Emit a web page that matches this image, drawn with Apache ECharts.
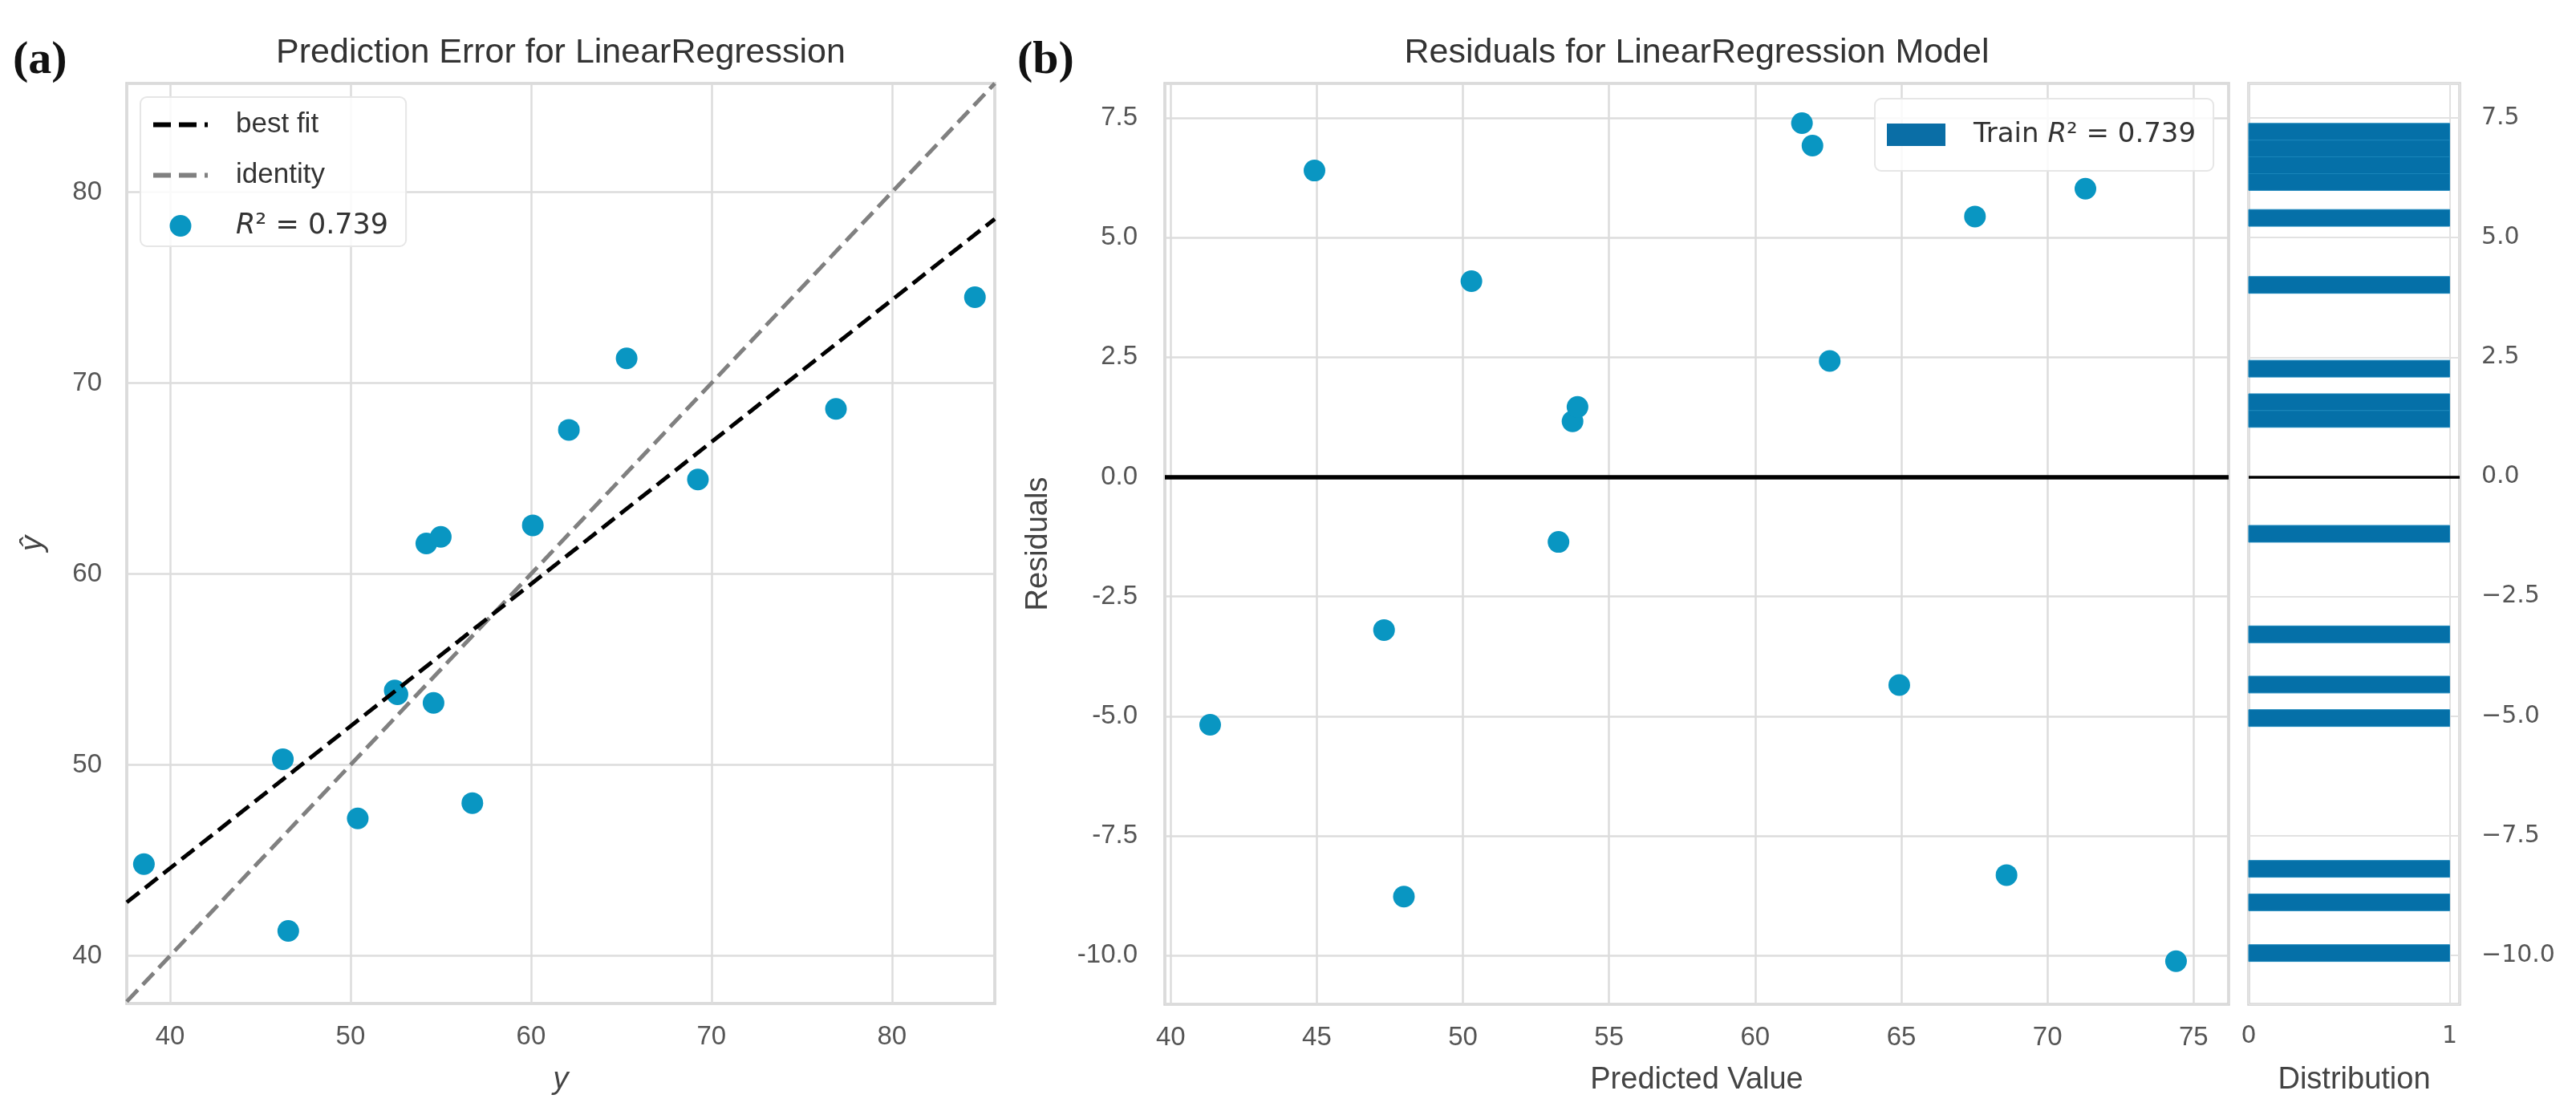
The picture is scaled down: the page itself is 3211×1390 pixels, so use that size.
<!DOCTYPE html>
<html lang="en">
<head>
<meta charset="UTF-8">
<title>Prediction Error / Residuals</title>
<script src="https://cdn.jsdelivr.net/npm/echarts@6.0.0/dist/echarts.min.js"></script>
<style>
  html, body { margin: 0; padding: 0; background: #fff; }
  #main { width: 3211px; height: 1390px; }
</style>
</head>
<body>
<div id="main"></div>
<script>
// (a) prediction error: actual y vs predicted y-hat
var yTrue = [38.55, 46.25, 46.55, 50.4, 52.45, 52.6, 54.6, 54.2, 55.0, 56.75, 60.1, 62.1, 65.3, 69.25, 76.9, 84.6];
var yPred = [44.8, 50.3, 41.3, 47.2, 53.9, 53.7, 53.25, 61.6, 61.95, 48.0, 62.55, 67.55, 71.3, 64.95, 68.65, 74.5];
var bestFitLine = [[37.6, 42.8], [85.7, 78.6]];
var identityLine = [[37.6, 37.6], [85.7, 85.7]];

// (b) residuals vs predicted value
var predicted = [41.35, 44.92, 47.3, 47.98, 50.29, 53.27, 53.75, 53.92, 61.6, 61.96, 62.55, 64.93, 67.52, 68.6, 71.3, 74.4];
var residuals = [-5.18, 6.40, -3.20, -8.77, 4.09, -1.36, 1.16, 1.46, 7.39, 6.92, 2.42, -4.35, 5.44, -8.32, 6.02, -10.12];

// histogram of residuals (bin centres and counts)
var binCenters = [7.21, 6.86, 6.51, 6.16, 5.41, 4.01, 2.26, 1.56, 1.21, -1.19, -3.29, -4.34, -5.04, -8.19, -8.89, -9.95];
var binCounts = [1, 1, 1, 1, 1, 1, 1, 1, 1, 1, 1, 1, 1, 1, 1, 1];
var binWidth = 0.35;

var r2 = '0.739';

var chart = echarts.init(document.getElementById('main'));

var SANS = "'Liberation Sans', Arial, sans-serif";
var DJV = "'DejaVu Sans', sans-serif";
var grid = { lineStyle: { color: '#dcdcdc', width: 2.5 } };
var tickFont = { fontFamily: SANS, fontSize: 33, color: '#555' };
var nameFont = { fontFamily: SANS, fontSize: 38, color: '#444' };

var option = {
  backgroundColor: '#fff',
  animation: false,
  graphic: [
    { type: 'text', x: 16, y: 76, style: { text: '(a)', font: "bold 58px 'Liberation Serif', serif", fill: '#111', textVerticalAlign: 'middle' } },
    { type: 'text', x: 1268, y: 76, style: { text: '(b)', font: "bold 58px 'Liberation Serif', serif", fill: '#111', textVerticalAlign: 'middle' } },
    { type: 'text', x: 699, y: 66, style: { text: 'Prediction Error for LinearRegression', font: "43px " + SANS, fill: '#333', textAlign: 'center', textVerticalAlign: 'middle' } },
    { type: 'text', x: 2115, y: 66, style: { text: 'Residuals for LinearRegression Model', font: "43px " + SANS, fill: '#333', textAlign: 'center', textVerticalAlign: 'middle' } }
  ],
  grid: [
    { left: 158, top: 104, width: 1082, height: 1147, show: true, borderColor: '#d2d2d2', borderWidth: 3.5 },
    { left: 1452, top: 104, width: 1326, height: 1148, show: true, borderColor: '#d2d2d2', borderWidth: 3.5 },
    { left: 2803, top: 104, width: 263, height: 1148, show: true, borderColor: '#d2d2d2', borderWidth: 3.5 }
  ],
  legend: [
    {
      data: [
        { name: 'best fit', itemStyle: { opacity: 0 },
          lineStyle: { color: '#000', width: 6, type: [22, 10], opacity: 1 } },
        { name: 'identity', itemStyle: { opacity: 0 },
          lineStyle: { color: '#808080', width: 6, type: [22, 10], opacity: 1 } },
        { name: 'r2a' }
      ],
      orient: 'vertical', left: 175, top: 121,
      padding: [17, 22, 8, 13],
      itemWidth: 68, itemHeight: 27, itemGap: 28,
      backgroundColor: 'rgba(255,255,255,0.85)', borderColor: '#e6e6e6', borderWidth: 2, borderRadius: 8,
      formatter: function (n) { return n === 'r2a' ? '{i|R}{n|\u00b2 = ' + r2 + '}' : n; },
      textStyle: {
        fontFamily: SANS, fontSize: 35, color: '#333', padding: [0, 0, 0, 30],
        rich: {
          i: { fontFamily: DJV, fontStyle: 'italic', fontSize: 35, color: '#333', lineHeight: 58 },
          n: { fontFamily: DJV, fontSize: 35, color: '#333', lineHeight: 58 }
        }
      }
    },
    {
      data: ['train'],
      left: 2337, top: 123,
      padding: [28, 22, 28, 15],
      itemWidth: 73, itemHeight: 28, icon: 'rect',
      itemStyle: { color: '#0a6ea6', opacity: 1 },
      backgroundColor: 'rgba(255,255,255,0.85)', borderColor: '#e6e6e6', borderWidth: 2, borderRadius: 8,
      formatter: function () { return '{n|Train }{i|R}{n|\u00b2 = ' + r2 + '}'; },
      textStyle: {
        fontFamily: DJV, fontSize: 34, color: '#333', padding: [0, 0, 0, 30],
        rich: {
          i: { fontFamily: DJV, fontStyle: 'italic', fontSize: 34, color: '#333' },
          n: { fontFamily: DJV, fontSize: 34, color: '#333' }
        }
      }
    }
  ],
  xAxis: [
    {
      type: 'value', gridIndex: 0, min: 37.6, max: 85.7, minInterval: 10, maxInterval: 10,
      name: 'y', nameLocation: 'middle', nameGap: 76,
      nameTextStyle: Object.assign({}, nameFont, { fontStyle: 'italic' }),
      axisLine: { show: false }, axisTick: { show: false },
      axisLabel: Object.assign({ margin: 25, showMinLabel: false, showMaxLabel: false }, tickFont),
      splitLine: grid
    },
    {
      type: 'value', gridIndex: 1, min: 39.8, max: 76.2, minInterval: 5, maxInterval: 5,
      name: 'Predicted Value', nameLocation: 'middle', nameGap: 76, nameTextStyle: nameFont,
      axisLine: { show: false }, axisTick: { show: false },
      axisLabel: Object.assign({ margin: 25, showMinLabel: false, showMaxLabel: false }, tickFont),
      splitLine: grid
    },
    {
      type: 'value', gridIndex: 2, min: 0, max: 1.05, minInterval: 1, maxInterval: 1,
      name: 'Distribution', nameLocation: 'middle', nameGap: 76, nameTextStyle: nameFont,
      axisLine: { show: false }, axisTick: { show: false },
      axisLabel: { margin: 25, showMaxLabel: false, fontFamily: DJV, fontSize: 30, color: '#555' },
      splitLine: { lineStyle: { color: '#e2e2e2', width: 2 } }
    }
  ],
  yAxis: [
    {
      type: 'value', gridIndex: 0, min: 37.5, max: 85.7, minInterval: 10, maxInterval: 10,
      name: '\u0177', nameLocation: 'middle', nameRotate: 90, nameGap: 98,
      nameTextStyle: Object.assign({}, nameFont, { fontStyle: 'italic' }),
      axisLine: { show: false }, axisTick: { show: false },
      axisLabel: Object.assign({ margin: 31, showMinLabel: false, showMaxLabel: false }, tickFont),
      splitLine: grid
    },
    {
      type: 'value', gridIndex: 1, min: -11.02, max: 8.22, minInterval: 2.5, maxInterval: 2.5,
      name: 'Residuals', nameLocation: 'middle', nameRotate: 90, nameGap: 138, nameTextStyle: nameFont,
      axisLine: { show: false }, axisTick: { show: false },
      axisLabel: Object.assign({ margin: 34, showMinLabel: false, showMaxLabel: false,
        formatter: function (v) { return v.toFixed(1); } }, tickFont),
      splitLine: grid
    },
    {
      type: 'value', gridIndex: 2, min: -11.02, max: 8.22, minInterval: 2.5, maxInterval: 2.5, position: 'right',
      axisLine: { show: false }, axisTick: { show: false },
      axisLabel: { margin: 27, showMinLabel: false, showMaxLabel: false, fontFamily: DJV, fontSize: 30, color: '#555',
        formatter: function (v) { return v.toFixed(1).replace('-', '\u2212'); } },
      splitLine: { lineStyle: { color: '#e2e2e2', width: 2 } }
    }
  ],
  series: [
    {
      name: 'r2a', type: 'scatter', xAxisIndex: 0, yAxisIndex: 0,
      symbolSize: 27, itemStyle: { color: '#0996c2', opacity: 1 },
      data: yTrue.map(function (v, i) { return [v, yPred[i]]; }), z: 2
    },
    {
      name: 'best fit', type: 'line', xAxisIndex: 0, yAxisIndex: 0, symbol: 'none',
      lineStyle: { color: '#000', width: 5, type: [20, 9] }, itemStyle: { color: '#000' },
      data: bestFitLine, z: 4
    },
    {
      name: 'identity', type: 'line', xAxisIndex: 0, yAxisIndex: 0, symbol: 'none',
      lineStyle: { color: '#808080', width: 5, type: [20, 9] }, itemStyle: { color: '#808080' },
      data: identityLine, z: 3
    },
    {
      name: 'train', type: 'scatter', xAxisIndex: 1, yAxisIndex: 1,
      symbolSize: 27, itemStyle: { color: '#0996c2', opacity: 1 },
      data: predicted.map(function (v, i) { return [v, residuals[i]]; }),
      markLine: { silent: true, symbol: 'none', label: { show: false },
        lineStyle: { color: '#000', width: 5.5, type: 'solid' }, data: [{ yAxis: 0 }] }
    },
    {
      name: 'dist', type: 'custom', xAxisIndex: 2, yAxisIndex: 2,
      data: binCenters.map(function (c, i) { return [binCounts[i], c]; }),
      renderItem: function (params, api) {
        var p0 = api.coord([0, api.value(1) + binWidth / 2]);
        var p1 = api.coord([api.value(0), api.value(1) - binWidth / 2]);
        return { type: 'rect', shape: { x: p0[0], y: p0[1], width: p1[0] - p0[0], height: p1[1] - p0[1] },
          style: { fill: '#0570a8', stroke: '#1a86bb', lineWidth: 1 } };
      },
      markLine: { silent: true, symbol: 'none', label: { show: false },
        lineStyle: { color: '#000', width: 3.5, type: 'solid' }, data: [{ yAxis: 0 }] }
    }
  ]
};

chart.setOption(option);
</script>
</body>
</html>
